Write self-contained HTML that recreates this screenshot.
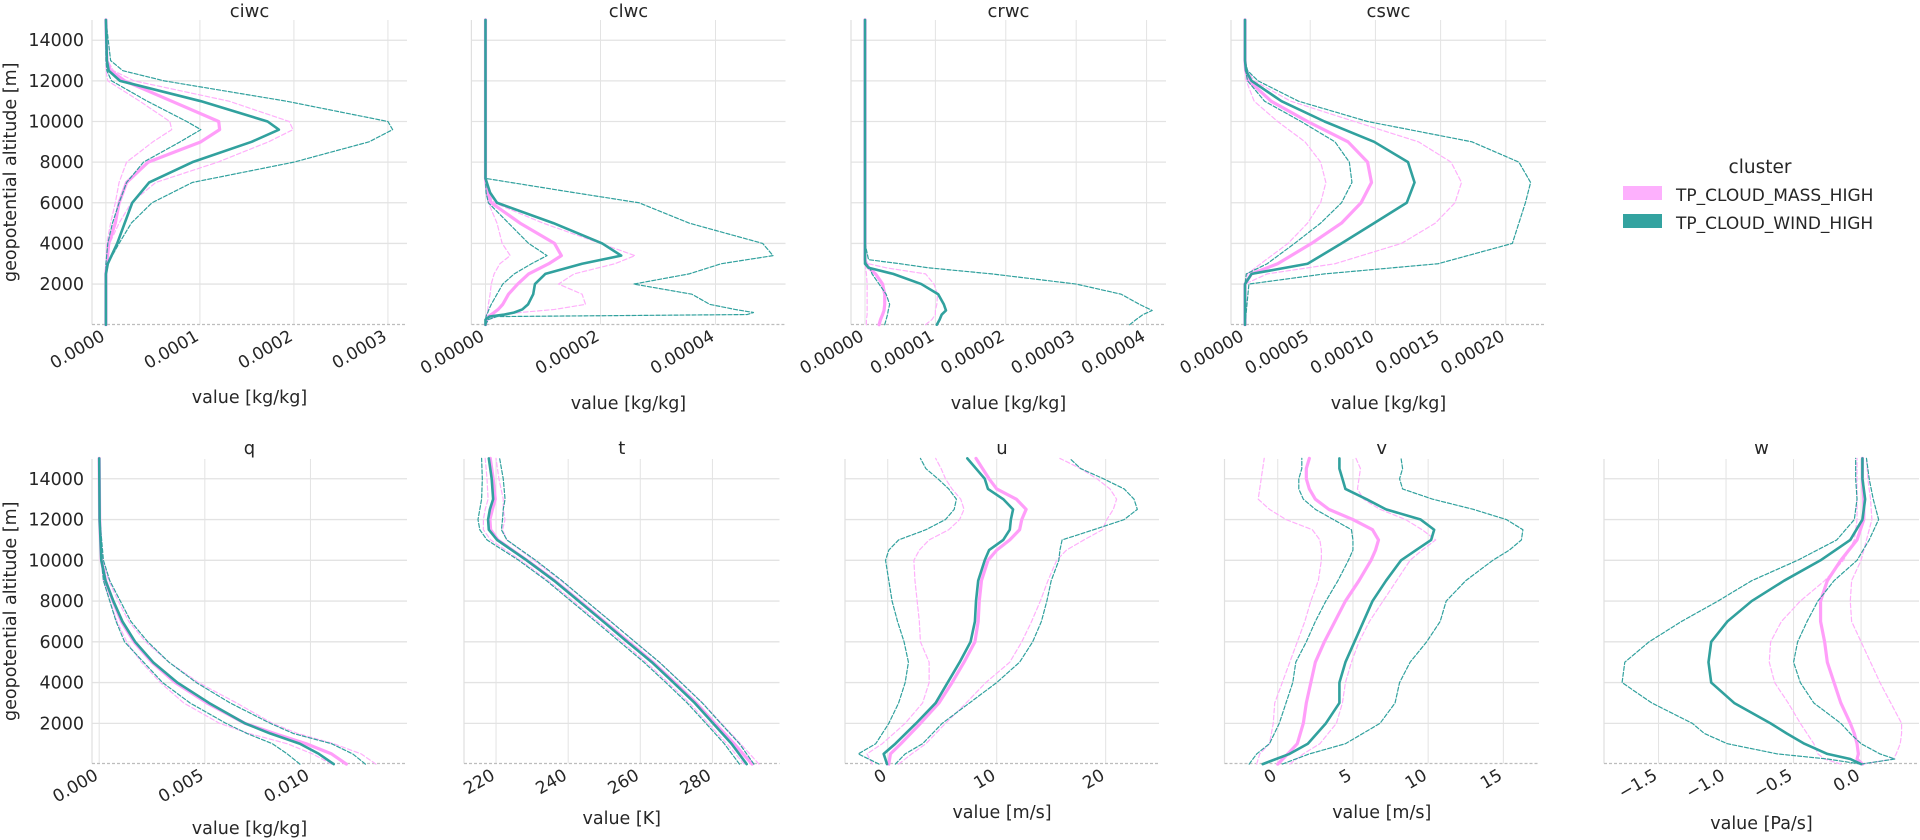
<!DOCTYPE html>
<html><head><meta charset="utf-8">
<style>
html,body{margin:0;padding:0;background:#fff;}
svg{display:block;font-family:"DejaVu Sans","Liberation Sans",sans-serif;}
</style></head>
<body>
<svg id="chart" width="1920" height="840" viewBox="0 0 1920 840" xmlns="http://www.w3.org/2000/svg">
<g id="legend">
  <text x="1760" y="173" font-size="18.5" fill="#262626" text-anchor="middle">cluster</text>
  <rect x="1623" y="186" width="39" height="14" fill="#fdb0fd"/>
  <text x="1676" y="201" font-size="17" fill="#262626">TP_CLOUD_MASS_HIGH</text>
  <rect x="1623" y="214" width="39" height="14" fill="#33a3a0"/>
  <text x="1676" y="229" font-size="17" fill="#262626">TP_CLOUD_WIND_HIGH</text>
</g>
</svg>
<script>
// ---------- data ----------
const ciwcAlt = [0,2500,3000,4000,5000,6000,7000,8000,9000,9600,10000,11000,12000,12500,13000,15000];
const ciwcWindMean = [0,0,0.02,0.12,0.2,0.28,0.46,0.92,1.55,1.84,1.72,1.01,0.15,0.03,0.01,0];
const ciwcWindHi = [0,0,0.02,0.14,0.27,0.49,0.92,2.0,2.8,3.05,3.0,1.92,0.62,0.18,0.05,0];
const ciwcWindLo = [0,0,0,0.02,0.07,0.14,0.22,0.4,0.79,1.01,0.86,0.44,0.06,0.01,0,0];
const ciwcMassMean = [0,0,0.01,0.03,0.1,0.14,0.22,0.45,1.01,1.21,1.2,0.7,0.2,0.05,0.01,0];
const ciwcMassHi = [0,0,0.01,0.04,0.14,0.27,0.53,1.19,1.73,1.99,1.95,1.31,0.3,0.08,0.02,0];
const ciwcMassLo = [0,0,0,0.01,0.05,0.1,0.14,0.22,0.5,0.7,0.68,0.36,0.02,0,0,0];
const ciwcTicks = [0,1,2,3];
const ciwcTickLabels = ["0.0000","0.0001","0.0002","0.0003"];

const clwcAlt = [0,250,400,500,600,750,1000,1500,2000,2500,3000,3400,4000,5000,6000,6500,7200,8000,15000];
const clwcWindMean = [0,0,0.07,0.33,0.5,0.64,0.74,0.83,0.86,1.04,1.68,2.36,2.03,1.18,0.2,0.08,0,0,0];
const clwcWindHi = [0,0.05,0.2,4.55,4.66,4.34,3.9,3.59,2.58,3.54,4.1,5.0,4.82,3.54,2.67,1.54,0,0,0];
const clwcWindLo = [0,0,0.01,0.02,0.04,0.06,0.1,0.2,0.3,0.5,0.8,1.07,0.75,0.4,0.05,0.01,0,0,0];
const clwcMassMean = [0,0.02,0.05,0.1,0.15,0.22,0.3,0.4,0.56,0.75,1.1,1.32,1.2,0.6,0.1,0.03,0,0,0];
const clwcMassHi = [0,0.05,0.2,0.3,0.6,1.2,1.74,1.68,1.27,1.54,2.25,2.6,2.0,1.0,0.15,0.05,0,0,0];
const clwcMassLo = [0,0,0.01,0.02,0.03,0.04,0.05,0.08,0.1,0.15,0.25,0.43,0.29,0.2,0.05,0.01,0,0,0];
const clwcTicks = [0,2,4];
const clwcTickLabels = ["0.00000","0.00002","0.00004"];

const crwcAlt = [0,250,500,700,1000,1500,2000,2500,2800,3000,3200,4000,15000];
const crwcWindMean = [1.02,1.06,1.09,1.15,1.12,1.04,0.8,0.4,0.05,0,0,0,0];
const crwcWindHi = [3.76,3.85,3.95,4.08,3.9,3.64,3.0,1.8,0.9,0.5,0.05,0,0];
const crwcWindLo = [0.28,0.3,0.32,0.33,0.35,0.3,0.2,0.1,0.07,0.02,0,0,0];
const crwcMassMean = [0.2,0.22,0.25,0.27,0.28,0.28,0.25,0.15,0.05,0.02,0,0,0];
const crwcMassHi = [0.86,0.95,1.0,1.0,1.02,1.03,0.98,0.86,0.3,0.05,0,0,0];
const crwcMassLo = [0.02,0.02,0.03,0.03,0.03,0.03,0.03,0.02,0.01,0,0,0,0];
const crwcTicks = [0,1,2,3,4];
const crwcTickLabels = ["0.00000","0.00001","0.00002","0.00003","0.00004"];

const cswcAlt = [0,2000,2500,3000,4000,5000,6000,7000,8000,9000,10000,11000,12000,12500,13000,15000];
const cswcWindMean = [0,0,0.5,4.8,7.4,9.9,12.4,13.0,12.5,9.9,6.1,2.8,0.5,0.08,0,0];
const cswcWindHi = [0,0.3,6.1,14.8,20.5,21.0,21.5,21.9,21.0,17.4,9.4,4.1,1.0,0.2,0,0];
const cswcWindLo = [0,0,0.1,1.7,3.8,5.8,7.4,8.2,8.0,6.9,4.3,1.5,0.2,0.05,0,0];
const cswcMassMean = [0,0,0.5,2.5,5.1,7.4,8.9,9.7,9.4,7.9,4.8,2.0,0.3,0.05,0,0];
const cswcMassHi = [0,0,1.7,6.9,12.0,14.6,16.1,16.6,15.8,13.3,8.4,3.5,0.7,0.2,0,0];
const cswcMassLo = [0,0,0.2,1.2,3.3,4.8,5.8,6.2,5.8,4.6,2.5,0.7,0.1,0,0,0];
const cswcTicks = [0,5,10,15,20];
const cswcTickLabels = ["0.00000","0.00005","0.00010","0.00015","0.00020"];

const qAlt = [0,500,1000,1500,2000,3000,4000,5000,6000,7000,8000,9000,10000,12000,15000];
const qWindMean = [11.1,10.4,9.5,8.1,6.9,5.2,3.7,2.55,1.7,1.1,0.67,0.3,0.1,0.02,0];
const qWindHi = [12.6,12.0,11.0,9.2,8.1,6.2,4.6,3.3,2.3,1.5,1.0,0.5,0.2,0.03,0];
const qWindLo = [9.5,8.9,8.2,7.0,6.0,4.3,3.0,2.1,1.2,0.8,0.5,0.2,0.1,0.01,0];
const qMassMean = [11.7,11.0,9.8,8.3,6.9,5.1,3.6,2.5,1.65,1.05,0.65,0.3,0.1,0.02,0];
const qMassHi = [13.1,12.4,11.1,9.4,8.2,6.5,4.7,3.3,2.2,1.4,0.9,0.45,0.15,0.03,0];
const qMassLo = [11.0,10.1,8.9,7.1,5.7,4.0,2.9,2.0,1.3,0.85,0.5,0.2,0.08,0.01,0];
const qTicks = [0,5,10];
const qTickLabels = ["0.000","0.005","0.010"];

const tAlt = [0,1000,2000,3000,4000,5000,6000,7000,8000,9000,10000,11000,11500,12000,12500,13000,14000,15000];
const tWindMean = [289.5,285.3,280.2,275.1,269.2,263.2,256.4,249.7,242.9,236.1,228.5,220.3,218.0,217.8,218.3,219.2,218.8,218.0];
const tWindHi = [291.5,287.5,282.3,277.2,271.3,265.3,258.5,251.8,245.0,238.3,231.0,223.0,221.5,221.8,222.0,222.5,222.0,221.0];
const tWindLo = [287.5,283.3,278.2,273.0,267.1,261.0,254.3,247.6,240.8,234.0,226.3,217.5,215.5,215.0,215.5,216.0,216.2,216.0];
const tMassMean = [291.0,286.0,280.7,275.5,269.6,263.5,256.8,250.0,243.2,236.3,228.6,220.5,218.5,218.3,219.0,219.8,219.2,218.4];
const tMassHi = [292.9,287.8,282.5,277.3,271.4,265.3,258.6,251.8,245.0,238.0,230.5,223.0,221.8,222.5,222.0,222.0,220.8,220.0];
const tMassLo = [288.8,284.0,278.8,273.6,267.7,261.6,255.0,248.2,241.4,234.5,226.8,218.5,216.5,216.5,217.0,217.8,217.5,217.0];
const tTicks = [220,240,260,280];
const tTickLabels = ["220","240","260","280"];

const uAlt = [0,500,1000,2000,3000,4000,5000,6000,7000,8000,9000,10000,10500,11000,11500,12000,12500,13000,13500,14000,14500,15000];
const uWindMean = [-0.06,-0.37,0.7,2.6,4.4,5.5,6.6,7.6,8.0,8.1,8.3,8.9,9.3,10.6,11.2,11.3,11.5,10.6,9.2,8.9,8.1,7.3];
const uWindHi = [0.7,1.6,3.2,5.0,7.5,10.0,12.1,13.3,14.1,14.6,15.0,15.7,15.8,16.0,18.9,21.7,22.9,22.6,21.7,19.8,17.7,16.7];
const uWindLo = [-0.8,-2.7,-1.1,0.1,1.0,1.6,1.9,1.5,0.9,0.4,0.1,-0.2,0.1,1.0,3.5,5.3,6.1,6.3,5.6,4.6,3.5,3.0];
const uMassMean = [0.1,0.25,1.2,3.0,4.7,5.9,7.0,8.0,8.3,8.4,8.6,9.2,10.0,11.2,12.1,12.3,12.7,11.8,10.0,9.3,8.7,8.1];
const uMassHi = [1.0,2.2,3.5,5.3,7.2,9.0,11.2,12.3,13.2,14.0,14.7,15.5,16.4,18.0,19.7,20.1,20.7,21.0,20.4,19.2,17.7,15.8];
const uMassLo = [-1.4,-1.9,-0.5,1.6,3.2,3.8,3.8,3.0,2.9,2.7,2.5,2.4,2.9,3.8,5.6,6.6,7.0,6.7,5.9,5.3,4.9,4.4];
const uTicks = [0,10,20];
const uTickLabels = ["0","10","20"];

const vAlt = [0,500,1000,2000,3000,4000,5000,6000,7000,8000,9000,10000,10500,11000,11500,12000,12500,13000,13500,14000,14500,15000];
const vWindMean = [-1.0,0.78,2.0,3.2,4.1,4.1,4.5,5.1,5.7,6.3,7.2,8.2,9.2,10.2,10.4,9.5,7.2,5.9,4.5,4.3,4.1,4.1];
const vWindHi = [0.3,2.1,4.5,6.8,7.8,8.1,8.8,9.9,10.8,11.2,12.5,14.3,15.4,16.2,16.3,15.2,13.0,10.3,8.3,8.1,8.3,8.2];
const vWindLo = [-1.9,-1.4,-0.55,0.1,0.55,1.0,1.2,1.9,2.5,3.2,4.0,4.7,5.0,5.0,4.9,3.7,2.5,1.7,1.4,1.4,1.6,1.6];
const vMassMean = [0,0.67,1.3,1.7,1.9,2.2,2.5,3.1,3.8,4.5,5.4,6.2,6.5,6.7,6.3,5.0,3.4,2.5,2.1,1.9,1.9,2.1];
const vMassHi = [0.8,1.7,2.8,3.9,4.3,4.5,4.9,5.4,6.1,7.0,7.9,8.8,9.6,10.5,9.6,8.5,6.8,5.7,5.3,5.4,5.5,5.2];
const vMassLo = [-1.4,-1.2,-0.55,-0.3,-0.2,0.3,0.8,1.3,1.8,2.2,2.7,2.9,2.9,2.8,2.3,0.55,-0.55,-1.3,-1.2,-1.1,-1.0,-0.9];
const vTicks = [0,5,10,15];
const vTickLabels = ["0","5","10","15"];

const wAlt = [0,250,500,1000,1500,2000,3000,4000,5000,6000,7000,8000,9000,10000,11000,12000,13000,14000,15000];
const wWindMean = [0,-0.08,-0.25,-0.42,-0.55,-0.67,-0.94,-1.11,-1.13,-1.11,-0.99,-0.81,-0.57,-0.30,-0.08,0.01,0.03,0.01,0.01];
const wWindHi = [0,0.25,0.14,0,-0.08,-0.15,-0.35,-0.45,-0.5,-0.47,-0.4,-0.32,-0.2,-0.03,0.06,0.13,0.09,0.06,0.04];
const wWindLo = [0,-0.25,-0.62,-0.99,-1.16,-1.25,-1.55,-1.77,-1.75,-1.57,-1.33,-1.06,-0.81,-0.47,-0.18,-0.05,-0.03,-0.04,-0.04];
const wMassMean = [0.01,-0.03,-0.02,-0.03,-0.05,-0.08,-0.15,-0.2,-0.25,-0.27,-0.3,-0.3,-0.25,-0.15,-0.03,0.02,0.02,0.01,0.01];
const wMassHi = [0.01,0.24,0.26,0.29,0.3,0.3,0.22,0.14,0.07,0,-0.07,-0.08,-0.07,0,0.04,0.08,0.07,0.05,0.04];
const wMassLo = [-0.15,-0.27,-0.32,-0.35,-0.4,-0.45,-0.54,-0.64,-0.68,-0.67,-0.59,-0.45,-0.27,-0.13,-0.05,-0.03,-0.03,-0.03,-0.03];
const wTicks = [-1.5,-1.0,-0.5,0.0];
const wTickLabels = ["\u22121.5","\u22121.0","\u22120.5","0.0"];

const yTicks = [2000,4000,6000,8000,10000,12000,14000];
const yTickLabels = ["2000","4000","6000","8000","10000","12000","14000"];

// ---------- layout ----------
const NS = "http://www.w3.org/2000/svg";
const svg = document.getElementById("chart");
const PINK = "#ff9ef9", PINK_D = "#ffb0fb", TEAL = "#31a19e";
const rows = [
  {top:20, y0:324.7, k:0.02032, bottom:324.5},
  {top:459, y0:764.1, k:0.02038, bottom:763.5}
];
const panels = [
  {name:"ciwc", row:0, x0:92, x1:407, d0:-0.148, d1:3.203, alt:ciwcAlt, s:[ciwcMassLo,ciwcMassHi,ciwcMassMean,ciwcWindLo,ciwcWindHi,ciwcWindMean], ticks:ciwcTicks, tl:ciwcTickLabels, xl:"value [kg/kg]", xly:403},
  {name:"clwc", row:0, x0:471.4, x1:785.5, d0:-0.245, d1:5.217, alt:clwcAlt, s:[clwcMassLo,clwcMassHi,clwcMassMean,clwcWindLo,clwcWindHi,clwcWindMean], ticks:clwcTicks, tl:clwcTickLabels, xl:"value [kg/kg]", xly:409},
  {name:"crwc", row:0, x0:851, x1:1166, d0:-0.199, d1:4.276, alt:crwcAlt, s:[crwcMassLo,crwcMassHi,crwcMassMean,crwcWindLo,crwcWindHi,crwcWindMean], ticks:crwcTicks, tl:crwcTickLabels, xl:"value [kg/kg]", xly:409},
  {name:"cswc", row:0, x0:1231, x1:1546, d0:-1.074, d1:23.08, alt:cswcAlt, s:[cswcMassLo,cswcMassHi,cswcMassMean,cswcWindLo,cswcWindHi,cswcWindMean], ticks:cswcTicks, tl:cswcTickLabels, xl:"value [kg/kg]", xly:409},
  {name:"q", row:1, x0:92, x1:407, d0:-0.341, d1:14.57, alt:qAlt, s:[qMassLo,qMassHi,qMassMean,qWindLo,qWindHi,qWindMean], ticks:qTicks, tl:qTickLabels, xl:"value [kg/kg]", xly:834},
  {name:"t", row:1, x0:464, x1:779.5, d0:211.12, d1:298.6, alt:tAlt, s:[tMassLo,tMassHi,tMassMean,tWindLo,tWindHi,tWindMean], ticks:tTicks, tl:tTickLabels, xl:"value [K]", xly:824},
  {name:"u", row:1, x0:845, x1:1159, d0:-3.92, d1:24.89, alt:uAlt, s:[uMassLo,uMassHi,uMassMean,uWindLo,uWindHi,uWindMean], ticks:uTicks, tl:uTickLabels, xl:"value [m/s]", xly:818},
  {name:"v", row:1, x0:1224.5, x1:1539, d0:-3.54, d1:17.37, alt:vAlt, s:[vMassLo,vMassHi,vMassMean,vWindLo,vWindHi,vWindMean], ticks:vTicks, tl:vTickLabels, xl:"value [m/s]", xly:818},
  {name:"w", row:1, x0:1604, x1:1919, d0:-1.904, d1:0.429, alt:wAlt, s:[wMassLo,wMassHi,wMassMean,wWindLo,wWindHi,wWindMean], ticks:wTicks, tl:wTickLabels, xl:"value [Pa/s]", xly:829}
];
const seriesNames = ["mass-lower","mass-upper","mass-mean","wind-lower","wind-upper","wind-mean"];
const seriesStyle = [
  {c:PINK_D, w:1.2, dash:"4.5,2.5"},{c:PINK_D, w:1.2, dash:"4.5,2.5"},{c:PINK, w:3.2, dash:null},
  {c:TEAL, w:1.2, dash:"4,2"},{c:TEAL, w:1.2, dash:"4,2"},{c:TEAL, w:2.6, dash:null}
];

function mk(tag, attrs, parent){ const e=document.createElementNS(NS,tag); for(const k in attrs) e.setAttribute(k,attrs[k]); (parent||svg).appendChild(e); return e; }

panels.forEach((p, pi) => {
  const R = rows[p.row];
  const xs = v => p.x0 + (v - p.d0) / (p.d1 - p.d0) * (p.x1 - p.x0);
  const ys = a => R.y0 - a * R.k;
  const g = mk("g", {});
  
  
  yTicks.forEach(t => {
    const l = mk("line", {x1:p.x0, x2:p.x1, y1:ys(t), y2:ys(t), stroke:"#e3e3e3", "stroke-width":1.3}, g);
    
    
  });
  p.ticks.forEach(t => {
    const l = mk("line", {x1:xs(t), x2:xs(t), y1:R.top, y2:R.bottom, stroke:"#e3e3e3", "stroke-width":1}, g);
    
    
  });
  const sp = mk("line", {x1:p.x0, x2:p.x0, y1:R.top, y2:R.bottom, stroke:"#e0e0e0", "stroke-width":1.2}, g);
  
  
  const bl = mk("line", {x1:p.x0, x2:p.x1, y1:R.bottom, y2:R.bottom, stroke:"#bdbdbd", "stroke-width":1.3, "stroke-dasharray":"3,2"}, g);
  
  
  p.s.forEach((arr, si) => {
    const st = seriesStyle[si];
    const d = arr.map((v, i) => (i ? "L" : "M") + xs(v).toFixed(2) + "," + ys(p.alt[i]).toFixed(2)).join(" ");
    const path = mk("path", {d:d, fill:"none", stroke:st.c, "stroke-width":st.w, "stroke-linejoin":"round", "stroke-linecap":"round"}, g);
    if (st.dash) path.setAttribute("stroke-dasharray", st.dash);
    
    
  });
  const ti = mk("text", {x:(p.x0+p.x1)/2, y:p.row ? 454 : 17, "font-size":18, fill:"#262626", "text-anchor":"middle"}, g);
  ti.textContent = p.name;
  
  
  p.ticks.forEach((t, i) => {
    const tx = xs(t), ty = R.bottom + 15;
    const tl = mk("text", {x:tx, y:ty, "font-size":17, fill:"#262626", "text-anchor":"end", transform:"rotate(-30 "+tx+" "+ty+")"}, g);
    tl.textContent = p.tl[i];
    
    
  });
  const xl = mk("text", {x:(p.x0+p.x1)/2, y:p.xly, "font-size":17.5, fill:"#262626", "text-anchor":"middle"}, g);
  xl.textContent = p.xl;
  
  
  if (p.x0 < 100) {
    yTicks.forEach((t, i) => {
      const yl = mk("text", {x:p.x0-8, y:ys(t)+6, "font-size":17.5, fill:"#262626", "text-anchor":"end"}, g);
      yl.textContent = yTickLabels[i];
      
      
    });
    const cy = (R.top + R.bottom) / 2;
    const ya = mk("text", {x:16, y:cy, "font-size":17.5, fill:"#262626", "text-anchor":"middle", transform:"rotate(-90 16 "+cy+")"}, g);
    ya.textContent = "geopotential altitude [m]";
    
    
  }
});
svg.appendChild(document.getElementById("legend"));
</script>
</body></html>
